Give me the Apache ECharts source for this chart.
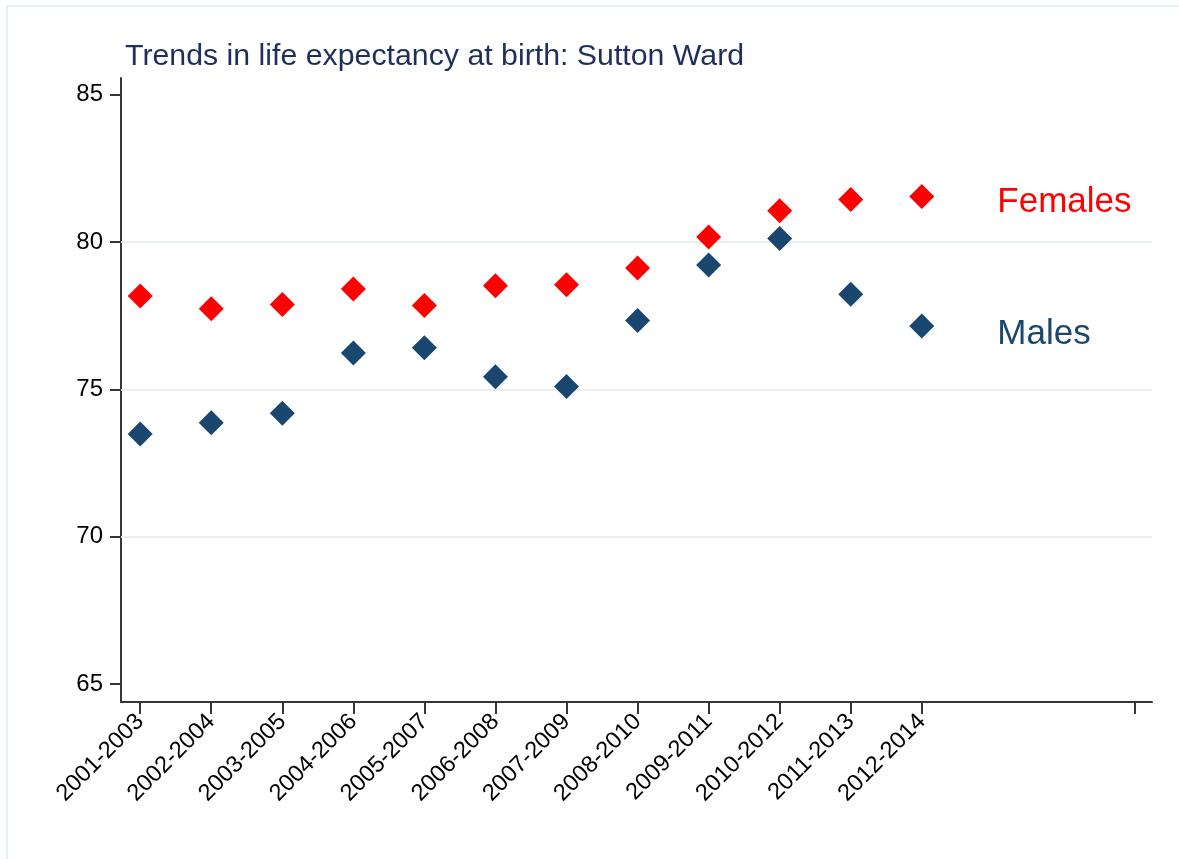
<!DOCTYPE html>
<html>
<head>
<meta charset="utf-8">
<title>Life expectancy - Sutton Ward</title>
<script src="https://cdn.jsdelivr.net/npm/echarts@6/dist/echarts.min.js"></script>
<style>
  html, body { margin: 0; padding: 0; background: #fff; }
  #chart { width: 1179px; height: 859px; }
</style>
</head>
<body>
<div id="chart"></div>
<script>
// periods on the x axis (positions 1..12)
const periods = ['2001-2003', '2002-2004', '2003-2005', '2004-2006', '2005-2007', '2006-2008',
  '2007-2009', '2008-2010', '2009-2011', '2010-2012', '2011-2013', '2012-2014']
const females = [78.17, 77.74, 77.88, 78.41, 77.85, 78.52, 78.55, 79.12, 80.17, 81.06, 81.45, 81.55]
const males = [73.49, 73.87, 74.19, 76.24, 76.41, 75.43, 75.10, 77.34, 79.22, 80.12, 78.23, 77.15]
const yTicks = [65, 70, 75, 80, 85]
const gridValues = [70, 75, 80]
const xTicks = [1, 2, 3, 4, 5, 6, 7, 8, 9, 10, 11, 12, 15]

const font = 'Liberation Sans, Arial, Helvetica, sans-serif'
const axisColor = '#363636'

function toPoints(values, name, color) {
  return values.map((v, i) => {
    const item = { value: [i + 1, v] }
    // last point carries the series name as a text label
    if (i === values.length - 1) {
      item.label = {
        show: true,
        position: 'right',
        distance: 63,
        offset: [0, name === 'Males' ? 8 : 6],
        formatter: name,
        color: color,
        opacity: 1,
        fontSize: 35,
        fontFamily: font
      }
    }
    return item
  })
}

const chart = echarts.init(document.getElementById('chart'))

chart.setOption({
  backgroundColor: '#fff',
  animation: false,
  title: {
    text: 'Trends in life expectancy at birth: Sutton Ward',
    left: 120,
    top: 37,
    textStyle: {
      color: '#1f2f5c',
      fontSize: 30.3,
      fontWeight: 'normal',
      fontFamily: font
    }
  },
  graphic: [{
    type: 'rect',
    shape: { x: 7, y: 6, width: 1400, height: 1000 },
    style: { fill: 'none', stroke: '#e6eff1', lineWidth: 2 },
    silent: true
  }],
  grid: {
    left: 121,
    right: 27,
    top: 78,
    bottom: 157
  },
  xAxis: {
    type: 'value',
    min: 0.73,
    max: 15.24,
    axisLine: { lineStyle: { color: axisColor, width: 2 } },
    axisTick: {
      customValues: xTicks,
      length: 12,
      lineStyle: { color: axisColor, width: 2 }
    },
    axisLabel: {
      customValues: xTicks.slice(0, periods.length),
      formatter: v => periods[v - 1] || '',
      rotate: 45,
      margin: 16,
      color: '#000',
      fontSize: 23.5,
      fontFamily: font
    },
    splitLine: { show: false }
  },
  yAxis: {
    type: 'value',
    min: 64.39,
    max: 85.57,
    axisLine: { show: true, lineStyle: { color: axisColor, width: 2 } },
    axisTick: {
      show: true,
      customValues: yTicks,
      length: 11,
      lineStyle: { color: axisColor, width: 2 }
    },
    axisLabel: {
      customValues: yTicks,
      margin: 18,
      color: '#000',
      fontSize: 24,
      fontFamily: font
    },
    splitLine: { show: false }
  },
  series: [
    {
      // light gridlines only at the inner ticks, kept under the markers
      type: 'line',
      data: [],
      z: 1,
      silent: true,
      markLine: {
        z: 1,
        silent: true,
        symbol: 'none',
        label: { show: false },
        lineStyle: { color: '#e7eff1', width: 2, type: 'solid' },
        data: gridValues.map(v => ({ yAxis: v }))
      }
    },
    {
      name: 'Females',
      type: 'scatter',
      symbol: 'diamond',
      symbolSize: 25,
      z: 3,
      itemStyle: { color: '#ff0000', opacity: 1 },
      data: toPoints(females, 'Females', '#ff0000')
    },
    {
      name: 'Males',
      type: 'scatter',
      symbol: 'diamond',
      symbolSize: 25,
      z: 3,
      itemStyle: { color: '#1a476f', opacity: 1 },
      data: toPoints(males, 'Males', '#1a476f')
    }
  ]
})
</script>
</body>
</html>
